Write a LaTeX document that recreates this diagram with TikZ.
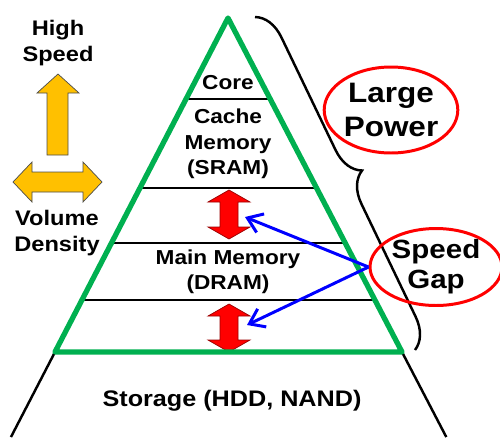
\documentclass[tikz,border=0pt]{standalone}
\usepackage{fontspec}
\setmainfont{Liberation Sans}[FakeStretch=1.12]
\usetikzlibrary{arrows.meta, calc, shapes.geometric, decorations.pathreplacing}

\definecolor{pyrgreen}{RGB}{0,176,80}
\definecolor{warnred}{RGB}{255,0,0}
\definecolor{gold}{RGB}{255,192,0}

\begin{document}
\begin{tikzpicture}[
    x=0.02cm, y=-0.02cm,
    label/.style={align=center, font=\bfseries\fontsize{11.5}{14.5}\selectfont},
    bubble/.style={draw=warnred, line width=1.7pt, ellipse, align=center, inner sep=0pt},
    tier/.style={line width=1.4pt},
    gaparrow/.style={fill=warnred, draw=red!60!black, line width=0.4pt},
    axisarrow/.style={fill=gold, draw=black!70, line width=0.4pt},
    link/.style={-{Straight Barb[length=0.28cm, width=0.4cm]}, line width=1.7pt, blue}
]
\useasboundingbox (0,0) rectangle (500,437);

% Pyramid corners
\coordinate (apex) at (228,18);
\coordinate (bl) at (55,352);
\coordinate (br) at (402,352);

% Storage layer below the pyramid
\draw[tier] (bl) -- ($(apex)!1.2545!(bl)$);
\draw[tier] (br) -- ($(apex)!1.2545!(br)$);

% Layer separators
\foreach \t in {0.243, 0.509, 0.674, 0.844}
    \draw[tier] ($(apex)!\t!(bl)$) -- ($(apex)!\t!(br)$);

% Gap arrows between layers
\foreach \ya/\yb in {190/239, 304/352}
    \draw[gaparrow] (229,\ya) -- (250,\ya+12) -- (238,\ya+12) -- (238,\yb-12) -- (250,\yb-12)
        -- (229,\yb) -- (208,\yb-12) -- (220,\yb-12) -- (220,\ya+12) -- (208,\ya+12) -- cycle;

% Pyramid outline
\draw[pyrgreen, line width=3pt, line join=round] (apex) -- (bl) -- (br) -- cycle;

% Layer labels
\node[label] (core) at (228,83) {Core};
\node[label] (cache) at (228,144) {Cache\\Memory\\(SRAM)};
\node[label] (main) at (228,272) {Main Memory\\(DRAM)};
\node[label, font=\bfseries\fontsize{12.8}{15}\selectfont] (storage) at (232,401) {Storage (HDD, NAND)};

% Axes on the left
\draw[axisarrow] (58,74) -- (79,93) -- (68,93) -- (68,155) -- (47,155) -- (47,93) -- (37,93) -- cycle;
\draw[axisarrow] (13,182) -- (32,162) -- (32,172) -- (83,172) -- (83,162) -- (102,182)
    -- (83,202) -- (83,192) -- (32,192) -- (32,202) -- cycle;
\node[label, font=\bfseries\fontsize{12}{14.3}\selectfont] (speed) at (58,43) {High\\Speed};
\node[label, font=\bfseries\fontsize{12}{14.3}\selectfont] (volume) at (57,233) {Volume\\Density};

% Brace and remarks
\draw[line width=1.4pt, decorate, decoration={brace, amplitude=0.6cm}] (255,17) -- (415,350);
\node[bubble, minimum width=2.56cm, minimum height=1.72cm,
    font=\bfseries\fontsize{16}{19}\selectfont] (power) at (391,110) {Large\\Power};
\node[bubble, minimum width=2.64cm, minimum height=1.52cm,
    font=\bfseries\fontsize{15}{17}\selectfont] (gap) at (436,267) {Speed\\Gap};

\coordinate (upper) at (245,217);
\coordinate (lower) at (247,325);
\draw[link] (gap.west) -- (upper);
\draw[link] (gap.west) -- (lower);

\end{tikzpicture}
\end{document}
